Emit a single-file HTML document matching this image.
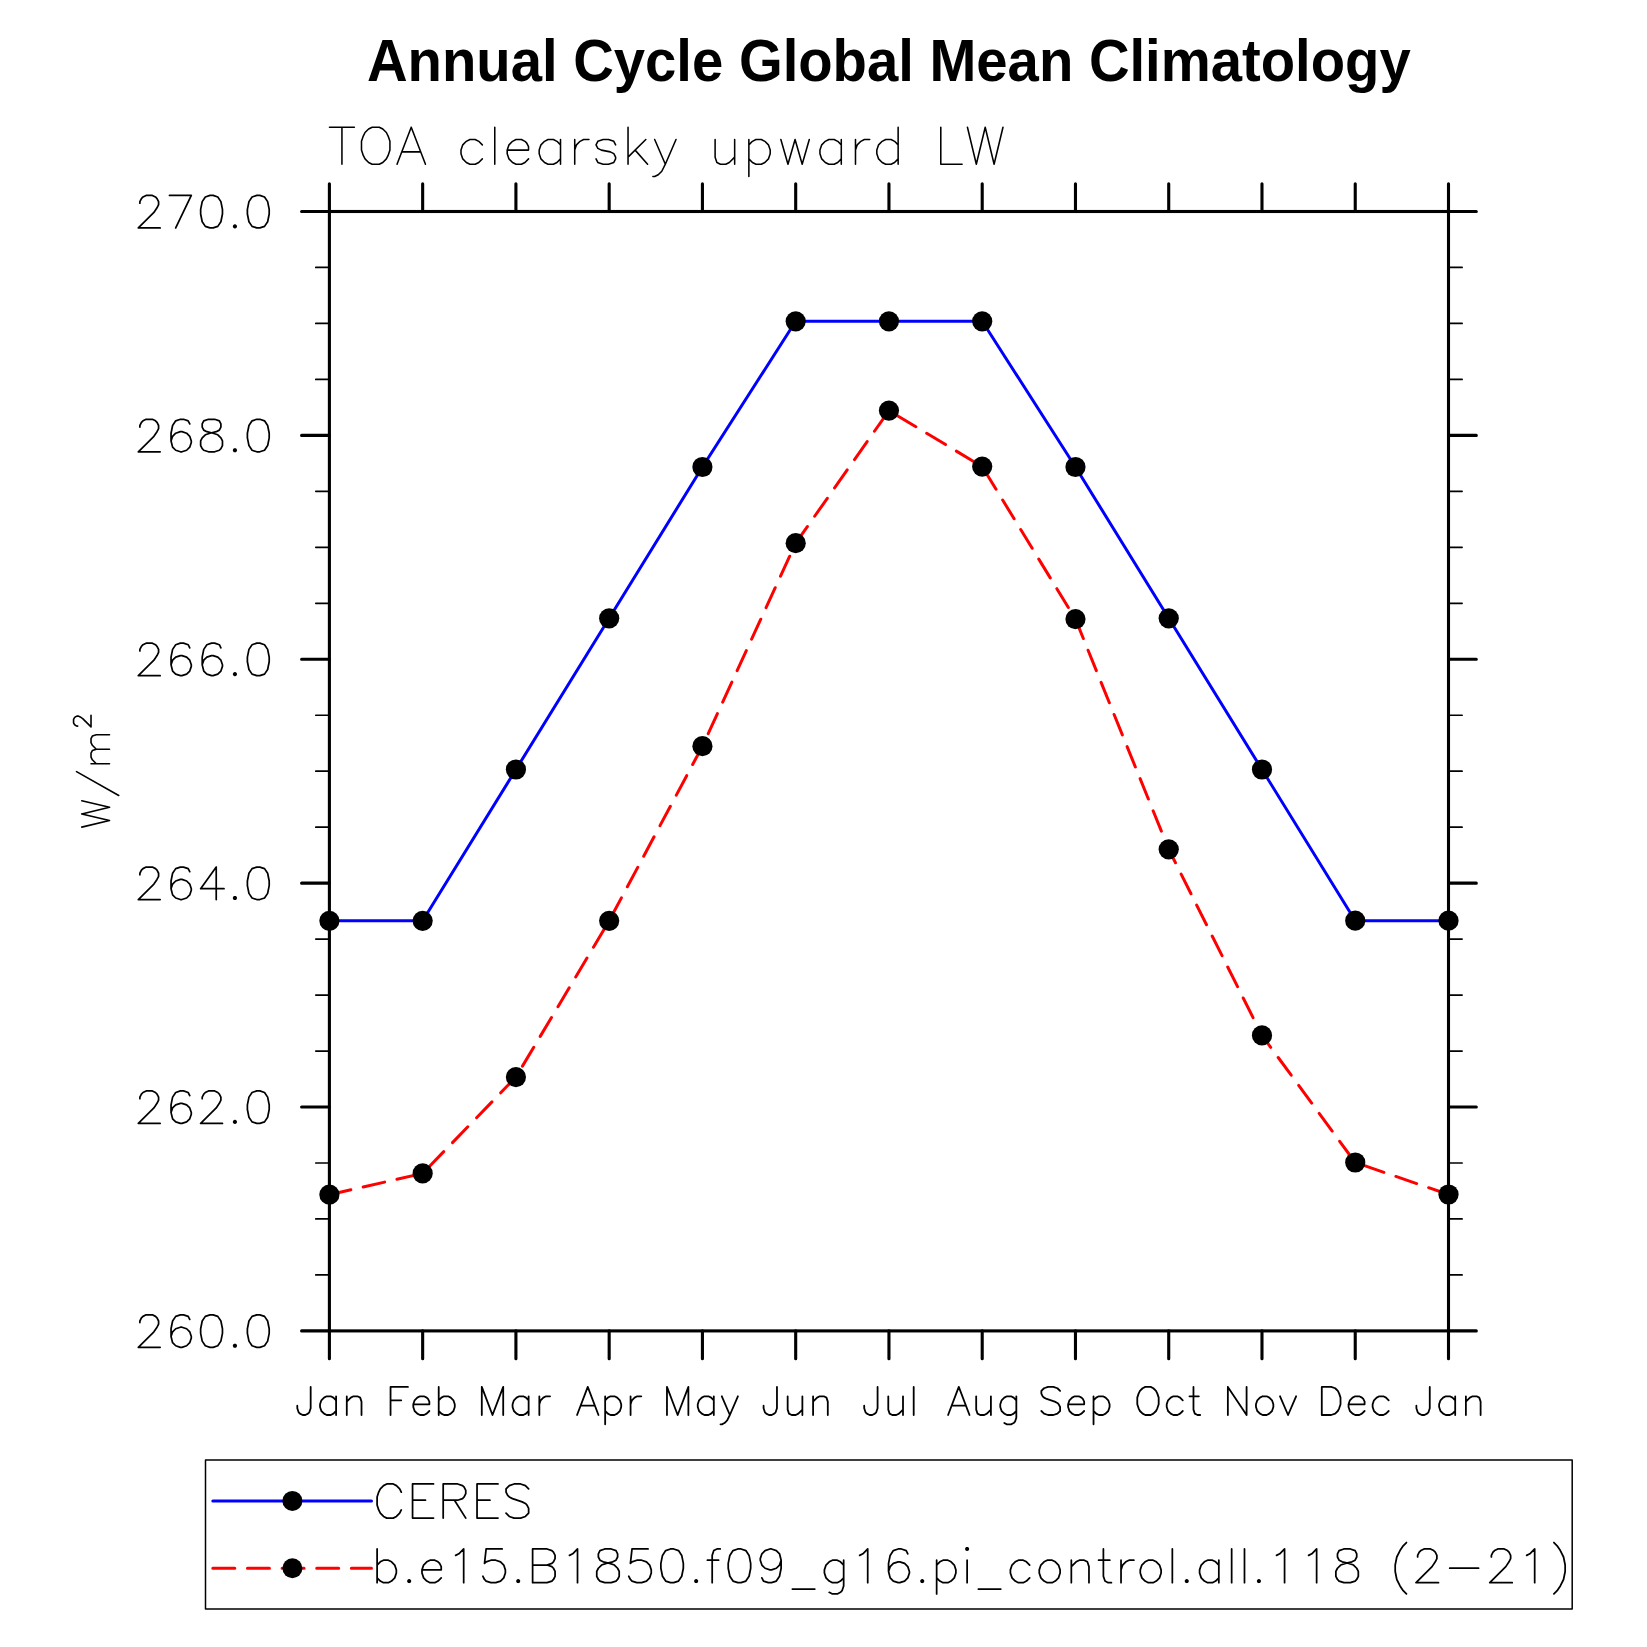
<!DOCTYPE html>
<html><head><meta charset="utf-8"><title>Annual Cycle Global Mean Climatology</title>
<style>html,body{margin:0;padding:0;background:#fff}body{width:1647px;height:1647px;overflow:hidden;font-family:"Liberation Sans",sans-serif}svg{display:block}</style></head>
<body>
<svg width="1647" height="1647" viewBox="0 0 1647 1647">
<rect width="1647" height="1647" fill="#fff"/>
<text transform="translate(888.85 80.6) scale(0.9376 1)" x="0" y="0" text-anchor="middle" font-family="Liberation Sans, sans-serif" font-weight="bold" font-size="60px" fill="#000">Annual Cycle Global Mean Climatology</text>
<path transform="translate(329.5 164.2)" d="M12.44 -36.96 L12.44 0 M0 -36.96 L24.88 -36.96 M42.65 -36.96 L39.09 -35.2 L35.54 -31.68 L33.76 -28.16 L31.99 -22.88 L31.99 -14.08 L33.76 -8.8 L35.54 -5.28 L39.09 -1.76 L42.65 0 L49.76 0 L53.31 -1.76 L56.86 -5.28 L58.64 -8.8 L60.42 -14.08 L60.42 -22.88 L58.64 -28.16 L56.86 -31.68 L53.31 -35.2 L49.76 -36.96 L42.65 -36.96 M81.74 -36.96 L67.53 0 M81.74 -36.96 L95.96 0 M72.86 -12.32 L90.63 -12.32 M152.82 -19.36 L149.27 -22.88 L145.71 -24.64 L140.38 -24.64 L136.83 -22.88 L133.28 -19.36 L131.5 -14.08 L131.5 -10.56 L133.28 -5.28 L136.83 -1.76 L140.38 0 L145.71 0 L149.27 -1.76 L152.82 -5.28 M165.26 -36.96 L165.26 0 M177.7 -14.08 L199.02 -14.08 L199.02 -17.6 L197.25 -21.12 L195.47 -22.88 L191.92 -24.64 L186.58 -24.64 L183.03 -22.88 L179.48 -19.36 L177.7 -14.08 L177.7 -10.56 L179.48 -5.28 L183.03 -1.76 L186.58 0 L191.92 0 L195.47 -1.76 L199.02 -5.28 M231.01 -24.64 L231.01 0 M231.01 -19.36 L227.46 -22.88 L223.9 -24.64 L218.57 -24.64 L215.02 -22.88 L211.46 -19.36 L209.69 -14.08 L209.69 -10.56 L211.46 -5.28 L215.02 -1.76 L218.57 0 L223.9 0 L227.46 -1.76 L231.01 -5.28 M245.23 -24.64 L245.23 0 M245.23 -14.08 L247 -19.36 L250.56 -22.88 L254.11 -24.64 L259.44 -24.64 M286.1 -19.36 L284.32 -22.88 L278.99 -24.64 L273.66 -24.64 L268.33 -22.88 L266.55 -19.36 L268.33 -15.84 L271.88 -14.08 L280.77 -12.32 L284.32 -10.56 L286.1 -7.04 L286.1 -5.28 L284.32 -1.76 L278.99 0 L273.66 0 L268.33 -1.76 L266.55 -5.28 M298.54 -36.96 L298.54 0 M316.31 -24.64 L298.54 -7.04 M305.64 -14.08 L318.08 0 M325.19 -24.64 L335.85 0 M346.51 -24.64 L335.85 0 L332.3 7.04 L328.75 10.56 L325.19 12.32 L323.41 12.32 M385.61 -24.64 L385.61 -7.04 L387.39 -1.76 L390.94 0 L396.27 0 L399.82 -1.76 L405.16 -7.04 M405.16 -24.64 L405.16 0 M419.37 -24.64 L419.37 12.32 M419.37 -19.36 L422.93 -22.88 L426.48 -24.64 L431.81 -24.64 L435.36 -22.88 L438.92 -19.36 L440.7 -14.08 L440.7 -10.56 L438.92 -5.28 L435.36 -1.76 L431.81 0 L426.48 0 L422.93 -1.76 L419.37 -5.28 M451.36 -24.64 L458.47 0 M465.57 -24.64 L458.47 0 M465.57 -24.64 L472.68 0 M479.79 -24.64 L472.68 0 M511.78 -24.64 L511.78 0 M511.78 -19.36 L508.22 -22.88 L504.67 -24.64 L499.34 -24.64 L495.78 -22.88 L492.23 -19.36 L490.45 -14.08 L490.45 -10.56 L492.23 -5.28 L495.78 -1.76 L499.34 0 L504.67 0 L508.22 -1.76 L511.78 -5.28 M525.99 -24.64 L525.99 0 M525.99 -14.08 L527.77 -19.36 L531.32 -22.88 L534.88 -24.64 L540.21 -24.64 M568.64 -36.96 L568.64 0 M568.64 -19.36 L565.09 -22.88 L561.53 -24.64 L556.2 -24.64 L552.65 -22.88 L549.09 -19.36 L547.32 -14.08 L547.32 -10.56 L549.09 -5.28 L552.65 -1.76 L556.2 0 L561.53 0 L565.09 -1.76 L568.64 -5.28 M611.29 -36.96 L611.29 0 M611.29 0 L632.61 0 M637.94 -36.96 L646.83 0 M655.71 -36.96 L646.83 0 M655.71 -36.96 L664.6 0 M673.48 -36.96 L664.6 0" fill="none" stroke="#000" stroke-width="1.55" stroke-linecap="round" stroke-linejoin="round"/>
<rect x="329.4" y="211.5" width="1119.1" height="1119.4" fill="none" stroke="#000" stroke-width="3.1"/>
<path d="M329.4 211.5 V183.7 M329.4 1330.9 V1358.7 M422.66 211.5 V183.7 M422.66 1330.9 V1358.7 M515.92 211.5 V183.7 M515.92 1330.9 V1358.7 M609.17 211.5 V183.7 M609.17 1330.9 V1358.7 M702.43 211.5 V183.7 M702.43 1330.9 V1358.7 M795.69 211.5 V183.7 M795.69 1330.9 V1358.7 M888.95 211.5 V183.7 M888.95 1330.9 V1358.7 M982.21 211.5 V183.7 M982.21 1330.9 V1358.7 M1075.47 211.5 V183.7 M1075.47 1330.9 V1358.7 M1168.72 211.5 V183.7 M1168.72 1330.9 V1358.7 M1261.98 211.5 V183.7 M1261.98 1330.9 V1358.7 M1355.24 211.5 V183.7 M1355.24 1330.9 V1358.7 M1448.5 211.5 V183.7 M1448.5 1330.9 V1358.7 M329.4 211.5 H301.6 M1448.5 211.5 H1476.3 M329.4 435.38 H301.6 M1448.5 435.38 H1476.3 M329.4 659.26 H301.6 M1448.5 659.26 H1476.3 M329.4 883.14 H301.6 M1448.5 883.14 H1476.3 M329.4 1107.02 H301.6 M1448.5 1107.02 H1476.3 M329.4 1330.9 H301.6 M1448.5 1330.9 H1476.3" stroke="#000" stroke-width="3.1" stroke-linecap="round" fill="none"/>
<path d="M329.4 267.47 H315.8 M1448.5 267.47 H1462.1 M329.4 323.44 H315.8 M1448.5 323.44 H1462.1 M329.4 379.41 H315.8 M1448.5 379.41 H1462.1 M329.4 491.35 H315.8 M1448.5 491.35 H1462.1 M329.4 547.32 H315.8 M1448.5 547.32 H1462.1 M329.4 603.29 H315.8 M1448.5 603.29 H1462.1 M329.4 715.23 H315.8 M1448.5 715.23 H1462.1 M329.4 771.2 H315.8 M1448.5 771.2 H1462.1 M329.4 827.17 H315.8 M1448.5 827.17 H1462.1 M329.4 939.11 H315.8 M1448.5 939.11 H1462.1 M329.4 995.08 H315.8 M1448.5 995.08 H1462.1 M329.4 1051.05 H315.8 M1448.5 1051.05 H1462.1 M329.4 1162.99 H315.8 M1448.5 1162.99 H1462.1 M329.4 1218.96 H315.8 M1448.5 1218.96 H1462.1 M329.4 1274.93 H315.8 M1448.5 1274.93 H1462.1" stroke="#000" stroke-width="1.7" stroke-linecap="round" fill="none"/>
<path transform="translate(269.2 227.91)" d="M-129.31 -24.75 L-129.31 -26.3 L-127.76 -29.39 L-126.2 -30.94 L-123.08 -32.49 L-116.85 -32.49 L-113.73 -30.94 L-112.18 -29.39 L-110.62 -26.3 L-110.62 -23.2 L-112.18 -20.11 L-115.29 -15.47 L-130.87 0 L-109.06 0 M-77.9 -32.49 L-93.48 0 M-99.71 -32.49 L-77.9 -32.49 M-59.2 -32.49 L-63.88 -30.94 L-66.99 -26.3 L-68.55 -18.56 L-68.55 -13.92 L-66.99 -6.19 L-63.88 -1.55 L-59.2 0 L-56.09 0 L-51.41 -1.55 L-48.3 -6.19 L-46.74 -13.92 L-46.74 -18.56 L-48.3 -26.3 L-51.41 -30.94 L-56.09 -32.49 L-59.2 -32.49 M-12.46 -32.49 L-17.14 -30.94 L-20.25 -26.3 L-21.81 -18.56 L-21.81 -13.92 L-20.25 -6.19 L-17.14 -1.55 L-12.46 0 L-9.35 0 L-4.67 -1.55 L-1.56 -6.19 L0 -13.92 L0 -18.56 L-1.56 -26.3 L-4.67 -30.94 L-9.35 -32.49 L-12.46 -32.49" fill="none" stroke="#000" stroke-width="1.72" stroke-linecap="round" stroke-linejoin="round"/><path transform="translate(269.2 227.91)" d="M-33.03 -1.55 L-33.2 -0.93 L-33.65 -0.48 L-34.28 -0.31 L-34.9 -0.48 L-35.36 -0.93 L-35.52 -1.55 L-35.36 -2.17 L-34.9 -2.62 L-34.28 -2.78 L-33.65 -2.62 L-33.2 -2.17 L-33.03 -1.55Z" fill="#000" stroke="#000" stroke-width="1.72" stroke-linejoin="round"/>
<path transform="translate(269.2 451.79)" d="M-129.31 -24.75 L-129.31 -26.3 L-127.76 -29.39 L-126.2 -30.94 L-123.08 -32.49 L-116.85 -32.49 L-113.73 -30.94 L-112.18 -29.39 L-110.62 -26.3 L-110.62 -23.2 L-112.18 -20.11 L-115.29 -15.47 L-130.87 0 L-109.06 0 M-79.46 -27.85 L-81.02 -30.94 L-85.69 -32.49 L-88.81 -32.49 L-93.48 -30.94 L-96.6 -26.3 L-98.15 -18.56 L-98.15 -10.83 L-96.6 -4.64 L-93.48 -1.55 L-88.81 0 L-87.25 0 L-82.57 -1.55 L-79.46 -4.64 L-77.9 -9.28 L-77.9 -10.83 L-79.46 -15.47 L-82.57 -18.56 L-87.25 -20.11 L-88.81 -20.11 L-93.48 -18.56 L-96.6 -15.47 L-98.15 -10.83 M-60.76 -32.49 L-65.44 -30.94 L-66.99 -27.85 L-66.99 -24.75 L-65.44 -21.66 L-62.32 -20.11 L-56.09 -18.56 L-51.41 -17.02 L-48.3 -13.92 L-46.74 -10.83 L-46.74 -6.19 L-48.3 -3.09 L-49.86 -1.55 L-54.53 0 L-60.76 0 L-65.44 -1.55 L-66.99 -3.09 L-68.55 -6.19 L-68.55 -10.83 L-66.99 -13.92 L-63.88 -17.02 L-59.2 -18.56 L-52.97 -20.11 L-49.86 -21.66 L-48.3 -24.75 L-48.3 -27.85 L-49.86 -30.94 L-54.53 -32.49 L-60.76 -32.49 M-12.46 -32.49 L-17.14 -30.94 L-20.25 -26.3 L-21.81 -18.56 L-21.81 -13.92 L-20.25 -6.19 L-17.14 -1.55 L-12.46 0 L-9.35 0 L-4.67 -1.55 L-1.56 -6.19 L0 -13.92 L0 -18.56 L-1.56 -26.3 L-4.67 -30.94 L-9.35 -32.49 L-12.46 -32.49" fill="none" stroke="#000" stroke-width="1.72" stroke-linecap="round" stroke-linejoin="round"/><path transform="translate(269.2 451.79)" d="M-33.03 -1.55 L-33.2 -0.93 L-33.65 -0.48 L-34.28 -0.31 L-34.9 -0.48 L-35.36 -0.93 L-35.52 -1.55 L-35.36 -2.17 L-34.9 -2.62 L-34.28 -2.78 L-33.65 -2.62 L-33.2 -2.17 L-33.03 -1.55Z" fill="#000" stroke="#000" stroke-width="1.72" stroke-linejoin="round"/>
<path transform="translate(269.2 675.67)" d="M-129.31 -24.75 L-129.31 -26.3 L-127.76 -29.39 L-126.2 -30.94 L-123.08 -32.49 L-116.85 -32.49 L-113.73 -30.94 L-112.18 -29.39 L-110.62 -26.3 L-110.62 -23.2 L-112.18 -20.11 L-115.29 -15.47 L-130.87 0 L-109.06 0 M-79.46 -27.85 L-81.02 -30.94 L-85.69 -32.49 L-88.81 -32.49 L-93.48 -30.94 L-96.6 -26.3 L-98.15 -18.56 L-98.15 -10.83 L-96.6 -4.64 L-93.48 -1.55 L-88.81 0 L-87.25 0 L-82.57 -1.55 L-79.46 -4.64 L-77.9 -9.28 L-77.9 -10.83 L-79.46 -15.47 L-82.57 -18.56 L-87.25 -20.11 L-88.81 -20.11 L-93.48 -18.56 L-96.6 -15.47 L-98.15 -10.83 M-48.3 -27.85 L-49.86 -30.94 L-54.53 -32.49 L-57.65 -32.49 L-62.32 -30.94 L-65.44 -26.3 L-66.99 -18.56 L-66.99 -10.83 L-65.44 -4.64 L-62.32 -1.55 L-57.65 0 L-56.09 0 L-51.41 -1.55 L-48.3 -4.64 L-46.74 -9.28 L-46.74 -10.83 L-48.3 -15.47 L-51.41 -18.56 L-56.09 -20.11 L-57.65 -20.11 L-62.32 -18.56 L-65.44 -15.47 L-66.99 -10.83 M-12.46 -32.49 L-17.14 -30.94 L-20.25 -26.3 L-21.81 -18.56 L-21.81 -13.92 L-20.25 -6.19 L-17.14 -1.55 L-12.46 0 L-9.35 0 L-4.67 -1.55 L-1.56 -6.19 L0 -13.92 L0 -18.56 L-1.56 -26.3 L-4.67 -30.94 L-9.35 -32.49 L-12.46 -32.49" fill="none" stroke="#000" stroke-width="1.72" stroke-linecap="round" stroke-linejoin="round"/><path transform="translate(269.2 675.67)" d="M-33.03 -1.55 L-33.2 -0.93 L-33.65 -0.48 L-34.28 -0.31 L-34.9 -0.48 L-35.36 -0.93 L-35.52 -1.55 L-35.36 -2.17 L-34.9 -2.62 L-34.28 -2.78 L-33.65 -2.62 L-33.2 -2.17 L-33.03 -1.55Z" fill="#000" stroke="#000" stroke-width="1.72" stroke-linejoin="round"/>
<path transform="translate(269.2 899.55)" d="M-129.31 -24.75 L-129.31 -26.3 L-127.76 -29.39 L-126.2 -30.94 L-123.08 -32.49 L-116.85 -32.49 L-113.73 -30.94 L-112.18 -29.39 L-110.62 -26.3 L-110.62 -23.2 L-112.18 -20.11 L-115.29 -15.47 L-130.87 0 L-109.06 0 M-79.46 -27.85 L-81.02 -30.94 L-85.69 -32.49 L-88.81 -32.49 L-93.48 -30.94 L-96.6 -26.3 L-98.15 -18.56 L-98.15 -10.83 L-96.6 -4.64 L-93.48 -1.55 L-88.81 0 L-87.25 0 L-82.57 -1.55 L-79.46 -4.64 L-77.9 -9.28 L-77.9 -10.83 L-79.46 -15.47 L-82.57 -18.56 L-87.25 -20.11 L-88.81 -20.11 L-93.48 -18.56 L-96.6 -15.47 L-98.15 -10.83 M-52.97 -32.49 L-68.55 -10.83 L-45.18 -10.83 M-52.97 -32.49 L-52.97 0 M-12.46 -32.49 L-17.14 -30.94 L-20.25 -26.3 L-21.81 -18.56 L-21.81 -13.92 L-20.25 -6.19 L-17.14 -1.55 L-12.46 0 L-9.35 0 L-4.67 -1.55 L-1.56 -6.19 L0 -13.92 L0 -18.56 L-1.56 -26.3 L-4.67 -30.94 L-9.35 -32.49 L-12.46 -32.49" fill="none" stroke="#000" stroke-width="1.72" stroke-linecap="round" stroke-linejoin="round"/><path transform="translate(269.2 899.55)" d="M-33.03 -1.55 L-33.2 -0.93 L-33.65 -0.48 L-34.28 -0.31 L-34.9 -0.48 L-35.36 -0.93 L-35.52 -1.55 L-35.36 -2.17 L-34.9 -2.62 L-34.28 -2.78 L-33.65 -2.62 L-33.2 -2.17 L-33.03 -1.55Z" fill="#000" stroke="#000" stroke-width="1.72" stroke-linejoin="round"/>
<path transform="translate(269.2 1123.43)" d="M-129.31 -24.75 L-129.31 -26.3 L-127.76 -29.39 L-126.2 -30.94 L-123.08 -32.49 L-116.85 -32.49 L-113.73 -30.94 L-112.18 -29.39 L-110.62 -26.3 L-110.62 -23.2 L-112.18 -20.11 L-115.29 -15.47 L-130.87 0 L-109.06 0 M-79.46 -27.85 L-81.02 -30.94 L-85.69 -32.49 L-88.81 -32.49 L-93.48 -30.94 L-96.6 -26.3 L-98.15 -18.56 L-98.15 -10.83 L-96.6 -4.64 L-93.48 -1.55 L-88.81 0 L-87.25 0 L-82.57 -1.55 L-79.46 -4.64 L-77.9 -9.28 L-77.9 -10.83 L-79.46 -15.47 L-82.57 -18.56 L-87.25 -20.11 L-88.81 -20.11 L-93.48 -18.56 L-96.6 -15.47 L-98.15 -10.83 M-66.99 -24.75 L-66.99 -26.3 L-65.44 -29.39 L-63.88 -30.94 L-60.76 -32.49 L-54.53 -32.49 L-51.41 -30.94 L-49.86 -29.39 L-48.3 -26.3 L-48.3 -23.2 L-49.86 -20.11 L-52.97 -15.47 L-68.55 0 L-46.74 0 M-12.46 -32.49 L-17.14 -30.94 L-20.25 -26.3 L-21.81 -18.56 L-21.81 -13.92 L-20.25 -6.19 L-17.14 -1.55 L-12.46 0 L-9.35 0 L-4.67 -1.55 L-1.56 -6.19 L0 -13.92 L0 -18.56 L-1.56 -26.3 L-4.67 -30.94 L-9.35 -32.49 L-12.46 -32.49" fill="none" stroke="#000" stroke-width="1.72" stroke-linecap="round" stroke-linejoin="round"/><path transform="translate(269.2 1123.43)" d="M-33.03 -1.55 L-33.2 -0.93 L-33.65 -0.48 L-34.28 -0.31 L-34.9 -0.48 L-35.36 -0.93 L-35.52 -1.55 L-35.36 -2.17 L-34.9 -2.62 L-34.28 -2.78 L-33.65 -2.62 L-33.2 -2.17 L-33.03 -1.55Z" fill="#000" stroke="#000" stroke-width="1.72" stroke-linejoin="round"/>
<path transform="translate(269.2 1347.31)" d="M-129.31 -24.75 L-129.31 -26.3 L-127.76 -29.39 L-126.2 -30.94 L-123.08 -32.49 L-116.85 -32.49 L-113.73 -30.94 L-112.18 -29.39 L-110.62 -26.3 L-110.62 -23.2 L-112.18 -20.11 L-115.29 -15.47 L-130.87 0 L-109.06 0 M-79.46 -27.85 L-81.02 -30.94 L-85.69 -32.49 L-88.81 -32.49 L-93.48 -30.94 L-96.6 -26.3 L-98.15 -18.56 L-98.15 -10.83 L-96.6 -4.64 L-93.48 -1.55 L-88.81 0 L-87.25 0 L-82.57 -1.55 L-79.46 -4.64 L-77.9 -9.28 L-77.9 -10.83 L-79.46 -15.47 L-82.57 -18.56 L-87.25 -20.11 L-88.81 -20.11 L-93.48 -18.56 L-96.6 -15.47 L-98.15 -10.83 M-59.2 -32.49 L-63.88 -30.94 L-66.99 -26.3 L-68.55 -18.56 L-68.55 -13.92 L-66.99 -6.19 L-63.88 -1.55 L-59.2 0 L-56.09 0 L-51.41 -1.55 L-48.3 -6.19 L-46.74 -13.92 L-46.74 -18.56 L-48.3 -26.3 L-51.41 -30.94 L-56.09 -32.49 L-59.2 -32.49 M-12.46 -32.49 L-17.14 -30.94 L-20.25 -26.3 L-21.81 -18.56 L-21.81 -13.92 L-20.25 -6.19 L-17.14 -1.55 L-12.46 0 L-9.35 0 L-4.67 -1.55 L-1.56 -6.19 L0 -13.92 L0 -18.56 L-1.56 -26.3 L-4.67 -30.94 L-9.35 -32.49 L-12.46 -32.49" fill="none" stroke="#000" stroke-width="1.72" stroke-linecap="round" stroke-linejoin="round"/><path transform="translate(269.2 1347.31)" d="M-33.03 -1.55 L-33.2 -0.93 L-33.65 -0.48 L-34.28 -0.31 L-34.9 -0.48 L-35.36 -0.93 L-35.52 -1.55 L-35.36 -2.17 L-34.9 -2.62 L-34.28 -2.78 L-33.65 -2.62 L-33.2 -2.17 L-33.03 -1.55Z" fill="#000" stroke="#000" stroke-width="1.72" stroke-linejoin="round"/>
<path transform="translate(329.4 1415)" d="M-18.73 -28.08 L-18.73 -6.68 L-20.07 -2.67 L-21.41 -1.34 L-24.08 0 L-26.76 0 L-29.44 -1.34 L-30.77 -2.67 L-32.11 -6.68 L-32.11 -9.36 M6.69 -18.72 L6.69 0 M6.69 -14.71 L4.01 -17.38 L1.34 -18.72 L-2.68 -18.72 L-5.35 -17.38 L-8.03 -14.71 L-9.37 -10.7 L-9.37 -8.02 L-8.03 -4.01 L-5.35 -1.34 L-2.68 0 L1.34 0 L4.01 -1.34 L6.69 -4.01 M17.39 -18.72 L17.39 0 M17.39 -13.37 L21.41 -17.38 L24.08 -18.72 L28.1 -18.72 L30.77 -17.38 L32.11 -13.37 L32.11 0" fill="none" stroke="#000" stroke-width="1.8" stroke-linecap="round" stroke-linejoin="round"/>
<path transform="translate(422.66 1415)" d="M-32.11 -28.08 L-32.11 0 M-32.11 -28.08 L-14.72 -28.08 M-32.11 -14.71 L-21.41 -14.71 M-9.37 -10.7 L6.69 -10.7 L6.69 -13.37 L5.35 -16.04 L4.01 -17.38 L1.34 -18.72 L-2.68 -18.72 L-5.35 -17.38 L-8.03 -14.71 L-9.37 -10.7 L-9.37 -8.02 L-8.03 -4.01 L-5.35 -1.34 L-2.68 0 L1.34 0 L4.01 -1.34 L6.69 -4.01 M16.06 -28.08 L16.06 0 M16.06 -14.71 L18.73 -17.38 L21.41 -18.72 L25.42 -18.72 L28.1 -17.38 L30.77 -14.71 L32.11 -10.7 L32.11 -8.02 L30.77 -4.01 L28.1 -1.34 L25.42 0 L21.41 0 L18.73 -1.34 L16.06 -4.01" fill="none" stroke="#000" stroke-width="1.8" stroke-linecap="round" stroke-linejoin="round"/>
<path transform="translate(515.92 1415)" d="M-34.12 -28.08 L-34.12 0 M-34.12 -28.08 L-23.42 0 M-12.71 -28.08 L-23.42 0 M-12.71 -28.08 L-12.71 0 M12.71 -18.72 L12.71 0 M12.71 -14.71 L10.04 -17.38 L7.36 -18.72 L3.35 -18.72 L0.67 -17.38 L-2.01 -14.71 L-3.35 -10.7 L-3.35 -8.02 L-2.01 -4.01 L0.67 -1.34 L3.35 0 L7.36 0 L10.04 -1.34 L12.71 -4.01 M23.42 -18.72 L23.42 0 M23.42 -10.7 L24.75 -14.71 L27.43 -17.38 L30.11 -18.72 L34.12 -18.72" fill="none" stroke="#000" stroke-width="1.8" stroke-linecap="round" stroke-linejoin="round"/>
<path transform="translate(609.17 1415)" d="M-21.41 -28.08 L-32.11 0 M-21.41 -28.08 L-10.7 0 M-28.1 -9.36 L-14.72 -9.36 M-4.01 -18.72 L-4.01 9.36 M-4.01 -14.71 L-1.34 -17.38 L1.34 -18.72 L5.35 -18.72 L8.03 -17.38 L10.7 -14.71 L12.04 -10.7 L12.04 -8.02 L10.7 -4.01 L8.03 -1.34 L5.35 0 L1.34 0 L-1.34 -1.34 L-4.01 -4.01 M21.41 -18.72 L21.41 0 M21.41 -10.7 L22.75 -14.71 L25.42 -17.38 L28.1 -18.72 L32.11 -18.72" fill="none" stroke="#000" stroke-width="1.8" stroke-linecap="round" stroke-linejoin="round"/>
<path transform="translate(702.43 1415)" d="M-35.46 -28.08 L-35.46 0 M-35.46 -28.08 L-24.75 0 M-14.05 -28.08 L-24.75 0 M-14.05 -28.08 L-14.05 0 M11.37 -18.72 L11.37 0 M11.37 -14.71 L8.7 -17.38 L6.02 -18.72 L2.01 -18.72 L-0.67 -17.38 L-3.35 -14.71 L-4.68 -10.7 L-4.68 -8.02 L-3.35 -4.01 L-0.67 -1.34 L2.01 0 L6.02 0 L8.7 -1.34 L11.37 -4.01 M19.4 -18.72 L27.43 0 M35.46 -18.72 L27.43 0 L24.75 5.35 L22.08 8.02 L19.4 9.36 L18.06 9.36" fill="none" stroke="#000" stroke-width="1.8" stroke-linecap="round" stroke-linejoin="round"/>
<path transform="translate(795.69 1415)" d="M-18.73 -28.08 L-18.73 -6.68 L-20.07 -2.67 L-21.41 -1.34 L-24.08 0 L-26.76 0 L-29.44 -1.34 L-30.77 -2.67 L-32.11 -6.68 L-32.11 -9.36 M-8.03 -18.72 L-8.03 -5.35 L-6.69 -1.34 L-4.01 0 L0 0 L2.68 -1.34 L6.69 -5.35 M6.69 -18.72 L6.69 0 M17.39 -18.72 L17.39 0 M17.39 -13.37 L21.41 -17.38 L24.08 -18.72 L28.1 -18.72 L30.77 -17.38 L32.11 -13.37 L32.11 0" fill="none" stroke="#000" stroke-width="1.8" stroke-linecap="round" stroke-linejoin="round"/>
<path transform="translate(888.95 1415)" d="M-11.37 -28.08 L-11.37 -6.68 L-12.71 -2.67 L-14.05 -1.34 L-16.73 0 L-19.4 0 L-22.08 -1.34 L-23.42 -2.67 L-24.75 -6.68 L-24.75 -9.36 M-0.67 -18.72 L-0.67 -5.35 L0.67 -1.34 L3.35 0 L7.36 0 L10.04 -1.34 L14.05 -5.35 M14.05 -18.72 L14.05 0 M24.75 -28.08 L24.75 0" fill="none" stroke="#000" stroke-width="1.8" stroke-linecap="round" stroke-linejoin="round"/>
<path transform="translate(982.21 1415)" d="M-23.42 -28.08 L-34.12 0 M-23.42 -28.08 L-12.71 0 M-30.11 -9.36 L-16.73 -9.36 M-6.02 -18.72 L-6.02 -5.35 L-4.68 -1.34 L-2.01 0 L2.01 0 L4.68 -1.34 L8.7 -5.35 M8.7 -18.72 L8.7 0 M34.12 -18.72 L34.12 2.67 L32.78 6.68 L31.44 8.02 L28.77 9.36 L24.75 9.36 L22.08 8.02 M34.12 -14.71 L31.44 -17.38 L28.77 -18.72 L24.75 -18.72 L22.08 -17.38 L19.4 -14.71 L18.06 -10.7 L18.06 -8.02 L19.4 -4.01 L22.08 -1.34 L24.75 0 L28.77 0 L31.44 -1.34 L34.12 -4.01" fill="none" stroke="#000" stroke-width="1.8" stroke-linecap="round" stroke-linejoin="round"/>
<path transform="translate(1075.47 1415)" d="M-15.39 -24.07 L-18.06 -26.74 L-22.08 -28.08 L-27.43 -28.08 L-31.44 -26.74 L-34.12 -24.07 L-34.12 -21.39 L-32.78 -18.72 L-31.44 -17.38 L-28.77 -16.04 L-20.74 -13.37 L-18.06 -12.03 L-16.73 -10.7 L-15.39 -8.02 L-15.39 -4.01 L-18.06 -1.34 L-22.08 0 L-27.43 0 L-31.44 -1.34 L-34.12 -4.01 M-7.36 -10.7 L8.7 -10.7 L8.7 -13.37 L7.36 -16.04 L6.02 -17.38 L3.35 -18.72 L-0.67 -18.72 L-3.35 -17.38 L-6.02 -14.71 L-7.36 -10.7 L-7.36 -8.02 L-6.02 -4.01 L-3.35 -1.34 L-0.67 0 L3.35 0 L6.02 -1.34 L8.7 -4.01 M18.06 -18.72 L18.06 9.36 M18.06 -14.71 L20.74 -17.38 L23.42 -18.72 L27.43 -18.72 L30.11 -17.38 L32.78 -14.71 L34.12 -10.7 L34.12 -8.02 L32.78 -4.01 L30.11 -1.34 L27.43 0 L23.42 0 L20.74 -1.34 L18.06 -4.01" fill="none" stroke="#000" stroke-width="1.8" stroke-linecap="round" stroke-linejoin="round"/>
<path transform="translate(1168.72 1415)" d="M-23.42 -28.08 L-26.09 -26.74 L-28.77 -24.07 L-30.11 -21.39 L-31.44 -17.38 L-31.44 -10.7 L-30.11 -6.68 L-28.77 -4.01 L-26.09 -1.34 L-23.42 0 L-18.06 0 L-15.39 -1.34 L-12.71 -4.01 L-11.37 -6.68 L-10.04 -10.7 L-10.04 -17.38 L-11.37 -21.39 L-12.71 -24.07 L-15.39 -26.74 L-18.06 -28.08 L-23.42 -28.08 M14.05 -14.71 L11.37 -17.38 L8.7 -18.72 L4.68 -18.72 L2.01 -17.38 L-0.67 -14.71 L-2.01 -10.7 L-2.01 -8.02 L-0.67 -4.01 L2.01 -1.34 L4.68 0 L8.7 0 L11.37 -1.34 L14.05 -4.01 M24.75 -28.08 L24.75 -5.35 L26.09 -1.34 L28.77 0 L31.44 0 M20.74 -18.72 L30.11 -18.72" fill="none" stroke="#000" stroke-width="1.8" stroke-linecap="round" stroke-linejoin="round"/>
<path transform="translate(1261.98 1415)" d="M-34.12 -28.08 L-34.12 0 M-34.12 -28.08 L-15.39 0 M-15.39 -28.08 L-15.39 0 M0.67 -18.72 L-2.01 -17.38 L-4.68 -14.71 L-6.02 -10.7 L-6.02 -8.02 L-4.68 -4.01 L-2.01 -1.34 L0.67 0 L4.68 0 L7.36 -1.34 L10.04 -4.01 L11.37 -8.02 L11.37 -10.7 L10.04 -14.71 L7.36 -17.38 L4.68 -18.72 L0.67 -18.72 M18.06 -18.72 L26.09 0 M34.12 -18.72 L26.09 0" fill="none" stroke="#000" stroke-width="1.8" stroke-linecap="round" stroke-linejoin="round"/>
<path transform="translate(1355.24 1415)" d="M-33.45 -28.08 L-33.45 0 M-33.45 -28.08 L-24.08 -28.08 L-20.07 -26.74 L-17.39 -24.07 L-16.06 -21.39 L-14.72 -17.38 L-14.72 -10.7 L-16.06 -6.68 L-17.39 -4.01 L-20.07 -1.34 L-24.08 0 L-33.45 0 M-6.69 -10.7 L9.37 -10.7 L9.37 -13.37 L8.03 -16.04 L6.69 -17.38 L4.01 -18.72 L0 -18.72 L-2.68 -17.38 L-5.35 -14.71 L-6.69 -10.7 L-6.69 -8.02 L-5.35 -4.01 L-2.68 -1.34 L0 0 L4.01 0 L6.69 -1.34 L9.37 -4.01 M33.45 -14.71 L30.77 -17.38 L28.1 -18.72 L24.08 -18.72 L21.41 -17.38 L18.73 -14.71 L17.39 -10.7 L17.39 -8.02 L18.73 -4.01 L21.41 -1.34 L24.08 0 L28.1 0 L30.77 -1.34 L33.45 -4.01" fill="none" stroke="#000" stroke-width="1.8" stroke-linecap="round" stroke-linejoin="round"/>
<path transform="translate(1448.5 1415)" d="M-18.73 -28.08 L-18.73 -6.68 L-20.07 -2.67 L-21.41 -1.34 L-24.08 0 L-26.76 0 L-29.44 -1.34 L-30.77 -2.67 L-32.11 -6.68 L-32.11 -9.36 M6.69 -18.72 L6.69 0 M6.69 -14.71 L4.01 -17.38 L1.34 -18.72 L-2.68 -18.72 L-5.35 -17.38 L-8.03 -14.71 L-9.37 -10.7 L-9.37 -8.02 L-8.03 -4.01 L-5.35 -1.34 L-2.68 0 L1.34 0 L4.01 -1.34 L6.69 -4.01 M17.39 -18.72 L17.39 0 M17.39 -13.37 L21.41 -17.38 L24.08 -18.72 L28.1 -18.72 L30.77 -17.38 L32.11 -13.37 L32.11 0" fill="none" stroke="#000" stroke-width="1.8" stroke-linecap="round" stroke-linejoin="round"/>
<path transform="translate(109.5 771.2) rotate(-90)" d="M-55.91 -27.72 L-49.31 0 M-42.71 -27.72 L-49.31 0 M-42.71 -27.72 L-36.11 0 M-29.51 -27.72 L-36.11 0 M-0.47 -33 L-24.23 9.24 M7.45 -18.48 L7.45 0 M7.45 -13.2 L11.41 -17.16 L14.05 -18.48 L18.01 -18.48 L20.65 -17.16 L21.97 -13.2 L21.97 0 M21.97 -13.2 L25.93 -17.16 L28.57 -18.48 L32.53 -18.48 L35.17 -17.16 L36.49 -13.2 L36.49 0 M45.1 -31.79 L45.1 -32.62 L45.93 -34.28 L46.76 -35.11 L48.42 -35.94 L51.75 -35.94 L53.41 -35.11 L54.25 -34.28 L55.08 -32.62 L55.08 -30.95 L54.25 -29.29 L52.58 -26.8 L44.27 -18.48 L55.91 -18.48" fill="none" stroke="#000" stroke-width="1.6" stroke-linecap="round" stroke-linejoin="round"/>
<path d="M329.4 920.8 L422.66 920.8 L515.92 769.5 L609.17 618.3 L702.43 467 L795.69 321.3 L888.95 321.3 L982.21 321.3 L1075.47 467 L1168.72 618.3 L1261.98 769.5 L1355.24 920.7 L1448.5 920.7" fill="none" stroke="#0000ff" stroke-width="3" stroke-linejoin="round" stroke-linecap="round"/>
<path d="M329.4 1194.7 L422.66 1173.4 L515.92 1077.1 L609.17 920.8 L702.43 746.2 L795.69 543.2 L888.95 410.6 L982.21 466.6 L1075.47 619.1 L1168.72 849.3 L1261.98 1035.4 L1355.24 1162.5 L1448.5 1194.5" fill="none" stroke="#ff0000" stroke-width="3" stroke-linejoin="round" stroke-linecap="round" stroke-dasharray="22 12.64"/>
<circle cx="329.4" cy="920.8" r="10.1" fill="#000"/>
<circle cx="422.66" cy="920.8" r="10.1" fill="#000"/>
<circle cx="515.92" cy="769.5" r="10.1" fill="#000"/>
<circle cx="609.17" cy="618.3" r="10.1" fill="#000"/>
<circle cx="702.43" cy="467" r="10.1" fill="#000"/>
<circle cx="795.69" cy="321.3" r="10.1" fill="#000"/>
<circle cx="888.95" cy="321.3" r="10.1" fill="#000"/>
<circle cx="982.21" cy="321.3" r="10.1" fill="#000"/>
<circle cx="1075.47" cy="467" r="10.1" fill="#000"/>
<circle cx="1168.72" cy="618.3" r="10.1" fill="#000"/>
<circle cx="1261.98" cy="769.5" r="10.1" fill="#000"/>
<circle cx="1355.24" cy="920.7" r="10.1" fill="#000"/>
<circle cx="1448.5" cy="920.7" r="10.1" fill="#000"/>
<circle cx="329.4" cy="1194.7" r="10.1" fill="#000"/>
<circle cx="422.66" cy="1173.4" r="10.1" fill="#000"/>
<circle cx="515.92" cy="1077.1" r="10.1" fill="#000"/>
<circle cx="609.17" cy="920.8" r="10.1" fill="#000"/>
<circle cx="702.43" cy="746.2" r="10.1" fill="#000"/>
<circle cx="795.69" cy="543.2" r="10.1" fill="#000"/>
<circle cx="888.95" cy="410.6" r="10.1" fill="#000"/>
<circle cx="982.21" cy="466.6" r="10.1" fill="#000"/>
<circle cx="1075.47" cy="619.1" r="10.1" fill="#000"/>
<circle cx="1168.72" cy="849.3" r="10.1" fill="#000"/>
<circle cx="1261.98" cy="1035.4" r="10.1" fill="#000"/>
<circle cx="1355.24" cy="1162.5" r="10.1" fill="#000"/>
<circle cx="1448.5" cy="1194.5" r="10.1" fill="#000"/>
<rect x="205.5" y="1460.1" width="1366.7" height="148.9" fill="none" stroke="#000" stroke-width="1.5" stroke-linejoin="round"/>
<path d="M212.8 1500.9 H371.5" stroke="#0000ff" stroke-width="3" stroke-linecap="round" fill="none"/>
<path d="M212.8 1568.2 H371.5" stroke="#ff0000" stroke-width="3" stroke-linecap="round" stroke-dasharray="22 12.64" fill="none"/>
<circle cx="292.4" cy="1500.9" r="10" fill="#000"/><circle cx="292.4" cy="1568.2" r="10" fill="#000"/>
<path transform="translate(377.1 1518.1)" d="M24.18 -26 L22.57 -29.25 L19.34 -32.5 L16.12 -34.12 L9.67 -34.12 L6.45 -32.5 L3.22 -29.25 L1.61 -26 L0 -21.12 L0 -13 L1.61 -8.12 L3.22 -4.88 L6.45 -1.62 L9.67 0 L16.12 0 L19.34 -1.62 L22.57 -4.88 L24.18 -8.12 M35.46 -34.12 L35.46 0 M35.46 -34.12 L56.42 -34.12 M35.46 -17.88 L48.36 -17.88 M35.46 0 L56.42 0 M66.09 -34.12 L66.09 0 M66.09 -34.12 L80.6 -34.12 L85.44 -32.5 L87.05 -30.88 L88.66 -27.62 L88.66 -24.38 L87.05 -21.12 L85.44 -19.5 L80.6 -17.88 L66.09 -17.88 M77.38 -17.88 L88.66 0 M99.94 -34.12 L99.94 0 M99.94 -34.12 L120.9 -34.12 M99.94 -17.88 L112.84 -17.88 M99.94 0 L120.9 0 M151.53 -29.25 L148.3 -32.5 L143.47 -34.12 L137.02 -34.12 L132.18 -32.5 L128.96 -29.25 L128.96 -26 L130.57 -22.75 L132.18 -21.12 L135.41 -19.5 L145.08 -16.25 L148.3 -14.62 L149.92 -13 L151.53 -9.75 L151.53 -4.88 L148.3 -1.62 L143.47 0 L137.02 0 L132.18 -1.62 L128.96 -4.88" fill="none" stroke="#000" stroke-width="1.75" stroke-linecap="round" stroke-linejoin="round"/>
<path transform="translate(377.1 1582.7)" d="M0 -33.73 L0 0 M0 -17.67 L3.21 -20.88 L6.41 -22.48 L11.22 -22.48 L14.43 -20.88 L17.64 -17.67 L19.24 -12.85 L19.24 -9.64 L17.64 -4.82 L14.43 -1.61 L11.22 0 L6.41 0 L3.21 -1.61 L0 -4.82 M44.89 -12.85 L64.13 -12.85 L64.13 -16.06 L62.53 -19.27 L60.93 -20.88 L57.72 -22.48 L52.91 -22.48 L49.7 -20.88 L46.5 -17.67 L44.89 -12.85 L44.89 -9.64 L46.5 -4.82 L49.7 -1.61 L52.91 0 L57.72 0 L60.93 -1.61 L64.13 -4.82 M78.56 -27.3 L81.77 -28.91 L86.58 -33.73 L86.58 0 M125.06 -33.73 L109.02 -33.73 L107.42 -19.27 L109.02 -20.88 L113.83 -22.48 L118.64 -22.48 L123.45 -20.88 L126.66 -17.67 L128.26 -12.85 L128.26 -9.64 L126.66 -4.82 L123.45 -1.61 L118.64 0 L113.83 0 L109.02 -1.61 L107.42 -3.21 L105.82 -6.42 M155.52 -33.73 L155.52 0 M155.52 -33.73 L169.95 -33.73 L174.76 -32.12 L176.36 -30.51 L177.97 -27.3 L177.97 -24.09 L176.36 -20.88 L174.76 -19.27 L169.95 -17.67 M155.52 -17.67 L169.95 -17.67 L174.76 -16.06 L176.36 -14.45 L177.97 -11.24 L177.97 -6.42 L176.36 -3.21 L174.76 -1.61 L169.95 0 L155.52 0 M192.4 -27.3 L195.6 -28.91 L200.41 -33.73 L200.41 0 M227.67 -33.73 L222.86 -32.12 L221.26 -28.91 L221.26 -25.7 L222.86 -22.48 L226.07 -20.88 L232.48 -19.27 L237.29 -17.67 L240.5 -14.45 L242.1 -11.24 L242.1 -6.42 L240.5 -3.21 L238.89 -1.61 L234.08 0 L227.67 0 L222.86 -1.61 L221.26 -3.21 L219.65 -6.42 L219.65 -11.24 L221.26 -14.45 L224.46 -17.67 L229.27 -19.27 L235.69 -20.88 L238.89 -22.48 L240.5 -25.7 L240.5 -28.91 L238.89 -32.12 L234.08 -33.73 L227.67 -33.73 M270.96 -33.73 L254.92 -33.73 L253.32 -19.27 L254.92 -20.88 L259.73 -22.48 L264.54 -22.48 L269.35 -20.88 L272.56 -17.67 L274.16 -12.85 L274.16 -9.64 L272.56 -4.82 L269.35 -1.61 L264.54 0 L259.73 0 L254.92 -1.61 L253.32 -3.21 L251.72 -6.42 M293.4 -33.73 L288.59 -32.12 L285.39 -27.3 L283.78 -19.27 L283.78 -14.45 L285.39 -6.42 L288.59 -1.61 L293.4 0 L296.61 0 L301.42 -1.61 L304.63 -6.42 L306.23 -14.45 L306.23 -19.27 L304.63 -27.3 L301.42 -32.12 L296.61 -33.73 L293.4 -33.73 M343.11 -33.73 L339.9 -33.73 L336.69 -32.12 L335.09 -27.3 L335.09 0 M330.28 -22.48 L341.5 -22.48 M360.74 -33.73 L355.93 -32.12 L352.73 -27.3 L351.12 -19.27 L351.12 -14.45 L352.73 -6.42 L355.93 -1.61 L360.74 0 L363.95 0 L368.76 -1.61 L371.97 -6.42 L373.57 -14.45 L373.57 -19.27 L371.97 -27.3 L368.76 -32.12 L363.95 -33.73 L360.74 -33.73 M404.03 -22.48 L402.43 -17.67 L399.22 -14.45 L394.41 -12.85 L392.81 -12.85 L388 -14.45 L384.79 -17.67 L383.19 -22.48 L383.19 -24.09 L384.79 -28.91 L388 -32.12 L392.81 -33.73 L394.41 -33.73 L399.22 -32.12 L402.43 -28.91 L404.03 -22.48 L404.03 -14.45 L402.43 -6.42 L399.22 -1.61 L394.41 0 L391.21 0 L386.4 -1.61 L384.79 -4.82 M415.25 6.42 L437.7 6.42 M466.56 -22.48 L466.56 3.21 L464.96 8.03 L463.35 9.64 L460.15 11.24 L455.34 11.24 L452.13 9.64 M466.56 -17.67 L463.35 -20.88 L460.15 -22.48 L455.34 -22.48 L452.13 -20.88 L448.92 -17.67 L447.32 -12.85 L447.32 -9.64 L448.92 -4.82 L452.13 -1.61 L455.34 0 L460.15 0 L463.35 -1.61 L466.56 -4.82 M482.59 -27.3 L485.8 -28.91 L490.61 -33.73 L490.61 0 M530.69 -28.91 L529.09 -32.12 L524.28 -33.73 L521.07 -33.73 L516.26 -32.12 L513.06 -27.3 L511.45 -19.27 L511.45 -11.24 L513.06 -4.82 L516.26 -1.61 L521.07 0 L522.68 0 L527.49 -1.61 L530.69 -4.82 L532.3 -9.64 L532.3 -11.24 L530.69 -16.06 L527.49 -19.27 L522.68 -20.88 L521.07 -20.88 L516.26 -19.27 L513.06 -16.06 L511.45 -11.24 M559.55 -22.48 L559.55 11.24 M559.55 -17.67 L562.76 -20.88 L565.96 -22.48 L570.77 -22.48 L573.98 -20.88 L577.19 -17.67 L578.79 -12.85 L578.79 -9.64 L577.19 -4.82 L573.98 -1.61 L570.77 0 L565.96 0 L562.76 -1.61 L559.55 -4.82 M590.01 -22.48 L590.01 0 M601.24 6.42 L623.68 6.42 M652.54 -17.67 L649.34 -20.88 L646.13 -22.48 L641.32 -22.48 L638.11 -20.88 L634.91 -17.67 L633.3 -12.85 L633.3 -9.64 L634.91 -4.82 L638.11 -1.61 L641.32 0 L646.13 0 L649.34 -1.61 L652.54 -4.82 M670.18 -22.48 L666.97 -20.88 L663.77 -17.67 L662.16 -12.85 L662.16 -9.64 L663.77 -4.82 L666.97 -1.61 L670.18 0 L674.99 0 L678.2 -1.61 L681.4 -4.82 L683.01 -9.64 L683.01 -12.85 L681.4 -17.67 L678.2 -20.88 L674.99 -22.48 L670.18 -22.48 M694.23 -22.48 L694.23 0 M694.23 -16.06 L699.04 -20.88 L702.25 -22.48 L707.06 -22.48 L710.26 -20.88 L711.87 -16.06 L711.87 0 M726.29 -33.73 L726.29 -6.42 L727.9 -1.61 L731.1 0 L734.31 0 M721.49 -22.48 L732.71 -22.48 M743.93 -22.48 L743.93 0 M743.93 -12.85 L745.53 -17.67 L748.74 -20.88 L751.95 -22.48 L756.76 -22.48 M771.19 -22.48 L767.98 -20.88 L764.77 -17.67 L763.17 -12.85 L763.17 -9.64 L764.77 -4.82 L767.98 -1.61 L771.19 0 L776 0 L779.2 -1.61 L782.41 -4.82 L784.01 -9.64 L784.01 -12.85 L782.41 -17.67 L779.2 -20.88 L776 -22.48 L771.19 -22.48 M795.24 -33.73 L795.24 0 M841.73 -22.48 L841.73 0 M841.73 -17.67 L838.53 -20.88 L835.32 -22.48 L830.51 -22.48 L827.3 -20.88 L824.1 -17.67 L822.49 -12.85 L822.49 -9.64 L824.1 -4.82 L827.3 -1.61 L830.51 0 L835.32 0 L838.53 -1.61 L841.73 -4.82 M854.56 -33.73 L854.56 0 M867.39 -33.73 L867.39 0 M899.45 -27.3 L902.66 -28.91 L907.47 -33.73 L907.47 0 M931.52 -27.3 L934.72 -28.91 L939.53 -33.73 L939.53 0 M966.79 -33.73 L961.98 -32.12 L960.38 -28.91 L960.38 -25.7 L961.98 -22.48 L965.19 -20.88 L971.6 -19.27 L976.41 -17.67 L979.62 -14.45 L981.22 -11.24 L981.22 -6.42 L979.62 -3.21 L978.01 -1.61 L973.2 0 L966.79 0 L961.98 -1.61 L960.38 -3.21 L958.77 -6.42 L958.77 -11.24 L960.38 -14.45 L963.58 -17.67 L968.39 -19.27 L974.81 -20.88 L978.01 -22.48 L979.62 -25.7 L979.62 -28.91 L978.01 -32.12 L973.2 -33.73 L966.79 -33.73 M1029.32 -40.15 L1026.11 -36.94 L1022.91 -32.12 L1019.7 -25.7 L1018.1 -17.67 L1018.1 -11.24 L1019.7 -3.21 L1022.91 3.21 L1026.11 8.03 L1029.32 11.24 M1040.54 -25.7 L1040.54 -27.3 L1042.14 -30.51 L1043.75 -32.12 L1046.95 -33.73 L1053.37 -33.73 L1056.57 -32.12 L1058.18 -30.51 L1059.78 -27.3 L1059.78 -24.09 L1058.18 -20.88 L1054.97 -16.06 L1038.94 0 L1061.38 0 M1072.61 -14.45 L1101.47 -14.45 M1114.29 -25.7 L1114.29 -27.3 L1115.9 -30.51 L1117.5 -32.12 L1120.71 -33.73 L1127.12 -33.73 L1130.33 -32.12 L1131.93 -30.51 L1133.53 -27.3 L1133.53 -24.09 L1131.93 -20.88 L1128.72 -16.06 L1112.69 0 L1135.14 0 M1149.57 -27.3 L1152.77 -28.91 L1157.58 -33.73 L1157.58 0 M1176.82 -40.15 L1180.03 -36.94 L1183.24 -32.12 L1186.44 -25.7 L1188.05 -17.67 L1188.05 -11.24 L1186.44 -3.21 L1183.24 3.21 L1180.03 8.03 L1176.82 11.24" fill="none" stroke="#000" stroke-width="1.75" stroke-linecap="round" stroke-linejoin="round"/><path transform="translate(377.1 1582.7)" d="M33.24 -1.61 L33.08 -1.02 L32.65 -0.59 L32.07 -0.43 L31.48 -0.59 L31.05 -1.02 L30.9 -1.61 L31.05 -2.19 L31.48 -2.62 L32.07 -2.78 L32.65 -2.62 L33.08 -2.19 L33.24 -1.61Z M142.26 -1.61 L142.1 -1.02 L141.68 -0.59 L141.09 -0.43 L140.51 -0.59 L140.08 -1.02 L139.92 -1.61 L140.08 -2.19 L140.51 -2.62 L141.09 -2.78 L141.68 -2.62 L142.1 -2.19 L142.26 -1.61Z M320.23 -1.61 L320.07 -1.02 L319.64 -0.59 L319.06 -0.43 L318.47 -0.59 L318.04 -1.02 L317.89 -1.61 L318.04 -2.19 L318.47 -2.62 L319.06 -2.78 L319.64 -2.62 L320.07 -2.19 L320.23 -1.61Z M546.29 -1.61 L546.14 -1.02 L545.71 -0.59 L545.12 -0.43 L544.54 -0.59 L544.11 -1.02 L543.95 -1.61 L544.11 -2.19 L544.54 -2.62 L545.12 -2.78 L545.71 -2.62 L546.14 -2.19 L546.29 -1.61Z M591.18 -33.73 L591.03 -33.14 L590.6 -32.71 L590.01 -32.55 L589.43 -32.71 L589 -33.14 L588.84 -33.73 L589 -34.31 L589.43 -34.74 L590.01 -34.9 L590.6 -34.74 L591.03 -34.31 L591.18 -33.73Z M810.84 -1.61 L810.68 -1.02 L810.25 -0.59 L809.67 -0.43 L809.08 -0.59 L808.65 -1.02 L808.5 -1.61 L808.65 -2.19 L809.08 -2.62 L809.67 -2.78 L810.25 -2.62 L810.68 -2.19 L810.84 -1.61Z M882.99 -1.61 L882.83 -1.02 L882.4 -0.59 L881.81 -0.43 L881.23 -0.59 L880.8 -1.02 L880.64 -1.61 L880.8 -2.19 L881.23 -2.62 L881.81 -2.78 L882.4 -2.62 L882.83 -2.19 L882.99 -1.61Z" fill="#000" stroke="#000" stroke-width="1.75" stroke-linejoin="round"/>
</svg>
</body></html>
